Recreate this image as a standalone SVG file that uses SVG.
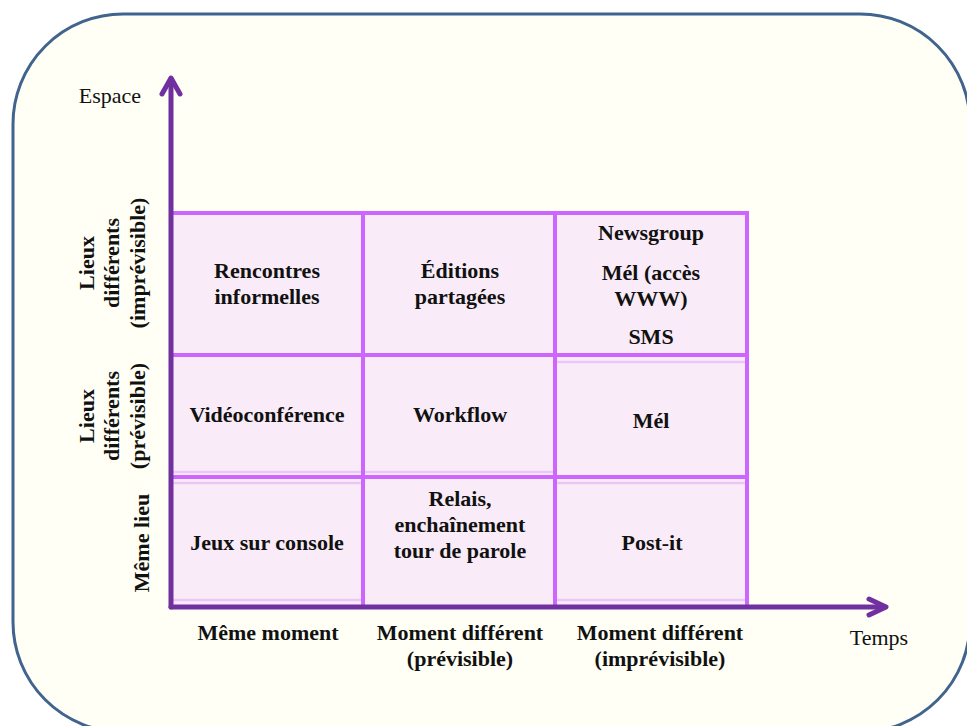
<svg xmlns="http://www.w3.org/2000/svg" width="967" height="726" viewBox="0 0 967 726">
<defs>
<style>
.bg{fill:#fffff5;stroke:#41648f;stroke-width:3}
.cell{fill:#f9ecf8;stroke:none}
.grid{stroke:#cc66ff;stroke-width:4;fill:none;stroke-linecap:square}
.faint{stroke:#ecc6f8;stroke-width:2.5;fill:none}
.axis{stroke:#7030a0;stroke-width:5;fill:none;stroke-linecap:round;stroke-linejoin:round}
.t{font-family:"Liberation Serif","Times New Roman",serif;font-weight:bold;font-size:22px;fill:#111;text-anchor:middle}
.r{font-family:"Liberation Serif","Times New Roman",serif;font-size:22px;fill:#111;text-anchor:middle}
</style>
</defs>
<rect class="bg" x="13" y="14" width="957" height="718" rx="110" ry="110"/>

<g id="cell-r1c1"><rect class="cell" x="171" y="213" width="192" height="142"/>
<text class="t" x="267" y="278">Rencontres</text><text class="t" x="267" y="304">informelles</text></g>
<g id="cell-r1c2"><rect class="cell" x="363" y="213" width="192" height="142"/>
<text class="t" x="460" y="278">Éditions</text><text class="t" x="460" y="304">partagées</text></g>
<g id="cell-r1c3"><rect class="cell" x="555" y="213" width="192" height="142"/>
<text class="t" x="651" y="240">Newsgroup</text><text class="t" x="651" y="280">Mél (accès</text><text class="t" x="651" y="306">WWW)</text><text class="t" x="651" y="344">SMS</text></g>

<g id="cell-r2c1"><rect class="cell" x="171" y="355" width="192" height="122"/>
<text class="t" x="267" y="422">Vidéoconférence</text></g>
<g id="cell-r2c2"><rect class="cell" x="363" y="355" width="192" height="122"/>
<text class="t" x="460" y="422">Workflow</text></g>
<g id="cell-r2c3"><rect class="cell" x="555" y="355" width="192" height="122"/>
<text class="t" x="651" y="428">Mél</text></g>

<g id="cell-r3c1"><rect class="cell" x="171" y="477" width="192" height="130"/>
<text class="t" x="267" y="550">Jeux sur console</text></g>
<g id="cell-r3c2"><rect class="cell" x="363" y="477" width="192" height="130"/>
<text class="t" x="460" y="506">Relais,</text><text class="t" x="460" y="532">enchaînement</text><text class="t" x="460" y="558">tour de parole</text></g>
<g id="cell-r3c3"><rect class="cell" x="555" y="477" width="192" height="130"/>
<text class="t" x="652" y="550">Post-it</text></g>

<g id="faint-lines">
<line class="faint" x1="173" y1="472" x2="555" y2="472"/>
<line class="faint" x1="173" y1="483" x2="363" y2="483"/>
<line class="faint" x1="173" y1="600" x2="363" y2="600"/>
<line class="faint" x1="557" y1="362" x2="746" y2="362"/>
<line class="faint" x1="557" y1="483" x2="746" y2="483"/>
<line class="faint" x1="557" y1="600" x2="746" y2="600"/>
</g>

<g id="grid">
<line class="grid" x1="171" y1="213" x2="747" y2="213"/>
<line class="grid" x1="171" y1="355" x2="747" y2="355"/>
<line class="grid" x1="171" y1="477" x2="747" y2="477"/>
<line class="grid" x1="363" y1="213" x2="363" y2="607"/>
<line class="grid" x1="555" y1="213" x2="555" y2="607"/>
<line class="grid" x1="747" y1="213" x2="747" y2="607"/>
</g>

<g id="connectors">
<line class="axis" x1="171" y1="79" x2="171" y2="607"/>
<polyline class="axis" points="162,94 171,78 180,94"/>
<line class="axis" x1="171" y1="607" x2="885" y2="607"/>
<polyline class="axis" points="869,599 886,607 869,615"/>
</g>

<g id="axis-y-label"><text class="r" x="110" y="103">Espace</text></g>
<g id="axis-x-label"><text class="r" x="879" y="645">Temps</text></g>

<g id="row-label-1" transform="translate(0,263)">
<text class="t" transform="translate(94,0) rotate(-90)">Lieux</text>
<text class="t" transform="translate(119,0) rotate(-90)">différents</text>
<text class="t" transform="translate(145,0) rotate(-90)">(imprévisible)</text>
</g>
<g id="row-label-2" transform="translate(0,416)">
<text class="t" transform="translate(94,0) rotate(-90)">Lieux</text>
<text class="t" transform="translate(119,0) rotate(-90)">différents</text>
<text class="t" transform="translate(145,0) rotate(-90)">(prévisible)</text>
</g>
<g id="row-label-3">
<text class="t" transform="translate(149,543) rotate(-90)">Même lieu</text>
</g>

<g id="col-label-1"><text class="t" x="268" y="640">Même moment</text></g>
<g id="col-label-2"><text class="t" x="460" y="640">Moment différent</text><text class="t" x="460" y="666">(prévisible)</text></g>
<g id="col-label-3"><text class="t" x="660" y="640">Moment différent</text><text class="t" x="660" y="666">(imprévisible)</text></g>
</svg>
